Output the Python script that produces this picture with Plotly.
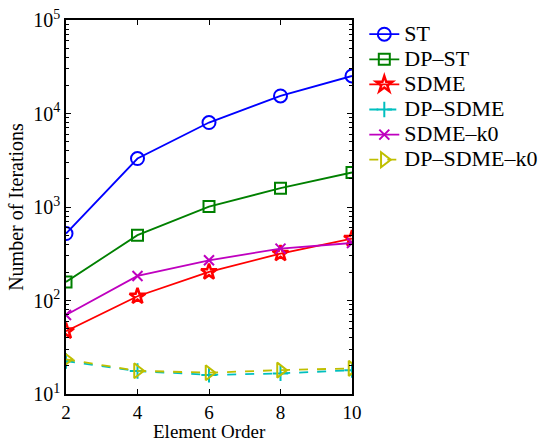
import plotly.graph_objects as go

# Element orders on the x axis
orders = [2, 4, 6, 8, 10]

# Iteration counts for each solver
st = [520, 3300, 8000, 15400, 25200]
dp_st = [158, 500, 1010, 1590, 2340]
sdme = [47, 111, 202, 318, 459]
dp_sdme = [22.5, 17.6, 16.0, 16.6, 18.0]
sdme_k0 = [70, 183, 269, 359, 412]
dp_sdme_k0 = [23.5, 17.7, 16.9, 18.0, 18.8]

y_tickvals = [10, 100, 1000, 10000, 100000]
y_ticktext = ["10<sup>1</sup>", "10<sup>2</sup>", "10<sup>3</sup>", "10<sup>4</sup>", "10<sup>5</sup>"]
x_tickvals = [2, 4, 6, 8, 10]

# minor log ticks at 2..9 within every decade
y_minor = [m * 10 ** e for e in range(1, 5) for m in range(2, 10)]

series = [
    ("ST", st, "rgb(0,0,255)", "solid", "circle-open", 13, 2),
    ("DP\u2013ST", dp_st, "rgb(0,128,0)", "solid", "square-open", 11, 2),
    ("SDME", sdme, "rgb(255,0,0)", "solid", "star-open", 12, 2.5),
    ("DP\u2013SDME", dp_sdme, "rgb(0,191,191)", "dash", "cross-thin-open", 11, 2),
    ("SDME\u2013k0", sdme_k0, "rgb(191,0,191)", "solid", "x-thin-open", 10, 2),
    ("DP\u2013SDME\u2013k0", dp_sdme_k0, "rgb(191,191,0)", "dash", "triangle-right-open", 13, 2),
]

fig = go.Figure()
for name, vals, color, dash, symbol, size, mlw in series:
    fig.add_trace(go.Scatter(
        x=orders, y=vals,
        # legend rows are spaced by the legend font; the label itself is larger
        name=f"<span style='font-size:22px'>{name}</span>",
        mode="lines+markers",
        line=dict(color=color, width=1.8, dash=dash),
        marker=dict(symbol=symbol, size=size, color=color,
                    line=dict(color=color, width=mlw)),
    ))

font_family = "Liberation Serif"
plot_h = 443 - 20 - 49

fig.update_layout(
    width=539, height=443,
    margin=dict(l=66, r=187, t=20, b=49, autoexpand=False),
    paper_bgcolor="white", plot_bgcolor="white",
    font=dict(family=font_family, size=19, color="black"),
    showlegend=True,
    legend=dict(
        x=1.043, y=1.009, xanchor="left", yanchor="top",
        bgcolor="rgba(0,0,0,0)", borderwidth=0,
        font=dict(family=font_family, size=17, color="black"),
        tracegroupgap=0, itemwidth=30,
    ),
    xaxis=dict(
        range=[2, 10], tickvals=x_tickvals, automargin=False,
        ticks="inside", ticklen=5, tickwidth=1, tickcolor="black",
        showline=True, linecolor="black", linewidth=1.5, mirror="ticks",
        showgrid=False, zeroline=False,
        tickfont=dict(size=19),
    ),
    yaxis=dict(
        type="log", range=[1, 5], tickvals=y_tickvals, ticktext=y_ticktext,
        automargin=False,
        ticks="inside", ticklen=5, tickwidth=1, tickcolor="black",
        showline=True, linecolor="black", linewidth=1.5, mirror="ticks",
        showgrid=False, zeroline=False,
        minor=dict(tickmode="array", tickvals=y_minor, ticks="inside",
                   ticklen=3, tickcolor="black", showgrid=False),
        title=dict(text="Number of Iterations", font=dict(size=20), standoff=4),
        tickfont=dict(size=20),
    ),
    annotations=[dict(
        text="Element Order", xref="paper", yref="paper",
        x=0.5, y=-49 / plot_h, xanchor="center", yanchor="bottom",
        showarrow=False, borderpad=0, font=dict(size=19),
    )],
)

fig.write_html("out.html")
